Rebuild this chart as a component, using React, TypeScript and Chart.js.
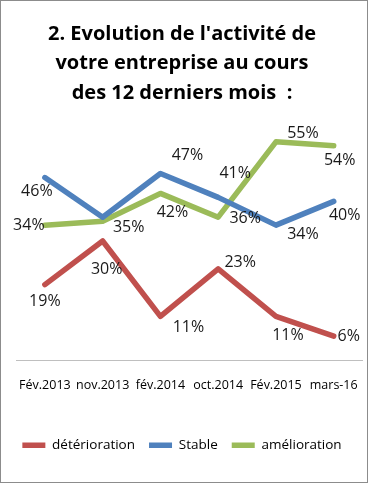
import { useEffect, useRef } from "react";
import { Chart, registerables } from "chart.js";

Chart.register(...registerables);

const categories = ["Fév.2013", "nov.2013", "fév.2014", "oct.2014", "Fév.2015", "mars-16"];
const deterioration = [19, 30, 11, 23, 11, 6];
const stable = [46, 36, 47, 41, 34, 40];
const amelioration = [34, 35, 42, 36, 55, 54];
const seriesNames = ["détérioration", "Stable", "amélioration"];
const titleLines = ["2. Evolution de l'activité de", "votre entreprise au cours", "des 12 derniers mois  :"];

// label placement (pixel offsets from each point), null = no label
const labelOffsets: ([number, number] | null)[][] = [
  [[0, 17], [4, 28], [28, 11], [22, -6], [12, 19], [15, 0]],
  [[-8, 14], null, [27, -18], [17, -24], [27, 9], [11, 14]],
  [[-16, 0], [26, 6], [12, 19], [27, 1], [27, -8], [6, 15]],
];
const colors = ["#C0504D", "#4F81BD", "#9BBB59"];

const labelPlugin = {
  id: "pointLabels",
  afterDatasetsDraw(chart: any) {
    const ctx = chart.ctx;
    ctx.save();
    ctx.font = '16px "Open Sans"';
    ctx.fillStyle = "#1a1a1a";
    ctx.textAlign = "center";
    ctx.textBaseline = "middle";
    chart.data.datasets.forEach((ds: any, di: number) => {
      const meta = chart.getDatasetMeta(di);
      meta.data.forEach((el: any, i: number) => {
        const off = labelOffsets[di][i];
        if (!off) return;
        ctx.fillText(ds.data[i] + "%", el.x + off[0], el.y + off[1]);
      });
    });
    ctx.restore();
  },
};

export default function App() {
  const ref = useRef<HTMLCanvasElement>(null);
  useEffect(() => {
    if (!ref.current) return;
    const series = [deterioration, stable, amelioration];
    const chart = new Chart(ref.current, {
      type: "line",
      data: {
        labels: categories,
        datasets: series.map((d, i) => ({
          label: seriesNames[i],
          data: d,
          borderColor: colors[i],
          backgroundColor: colors[i],
          borderWidth: 5.5,
          pointRadius: 0,
          tension: 0,
          borderCapStyle: "round" as const,
          borderJoinStyle: "round" as const,
        })),
      },
      options: {
        animation: false,
        responsive: false,
        devicePixelRatio: 1,
        layout: { padding: { top: 0, left: 0, right: 4, bottom: 21 } },
        scales: {
          x: {
            offset: true,
            grid: { display: false },
            border: { display: true, color: "#bfbfbf", width: 1 },
            ticks: {
              padding: 10,
              maxRotation: 0,
              autoSkip: false,
              color: "#000",
              font: { family: "Open Sans", size: 12.5 },
            },
            afterFit: (s: any) => {
              s.height = 64.5;
            },
          },
          y: {
            min: 0,
            max: 60,
            grid: { display: false },
            border: { display: false },
            ticks: { display: false },
            afterFit: (s: any) => {
              s.width = 16;
            },
          },
        },
        plugins: {
          title: {
            display: true,
            text: titleLines,
            color: "#000",
            font: { family: "Open Sans", size: 20, weight: "bold", lineHeight: 1.475 },
            padding: { top: 19.5, bottom: 14 },
          },
          legend: {
            display: true,
            position: "bottom",
            labels: {
              usePointStyle: true,
              pointStyle: "line",
              pointStyleWidth: 23,
              padding: 14,
              color: "#000",
              font: { family: "Open Sans", size: 13.5 },
            },
          },
          tooltip: { enabled: false },
        },
      },
      plugins: [labelPlugin],
    });
    return () => chart.destroy();
  }, []);

  return (
    <div style={{ position: "fixed", left: 0, top: 0, width: 368, height: 483, background: "#fff" }}>
      <canvas ref={ref} width={368} height={483} style={{ position: "absolute", left: 0, top: 0 }} />
      <div
        style={{
          position: "absolute",
          left: 0,
          top: 0,
          width: 368,
          height: 483,
          boxSizing: "border-box",
          border: "1px solid #8c8c8c",
          pointerEvents: "none",
        }}
      />
    </div>
  );
}
